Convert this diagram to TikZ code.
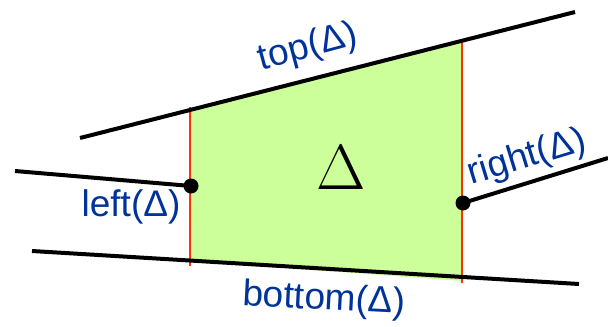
\documentclass[tikz,border=0pt]{standalone}
\usepackage{fontspec}
\setmainfont{Liberation Sans}
\definecolor{labelblue}{RGB}{0,51,153}
\definecolor{cellgreen}{RGB}{204,255,153}
\definecolor{wallred}{RGB}{255,51,0}
\begin{document}
\begin{tikzpicture}[x=0.5pt, y=-0.5pt,
        every node/.style={inner sep=0pt},
        lbl/.style={text=labelblue, font=\fontsize{18.5}{20}\selectfont},
        segment/.style={line width=2pt},
        wall/.style={wallred, line width=1pt},
        dot/.style={circle, fill=black, minimum size=7.5pt}]
        \useasboundingbox (0,0) rectangle (608,326);
        % trapezoid
        \fill[cellgreen] (190,110) -- (462,41) -- (462,281) -- (190,261) -- cycle;
        \coordinate (lt) at (190,107);
        \coordinate (lb) at (190,266);
        \coordinate (rt) at (462,43);
        \coordinate (rb) at (462,283);
        \draw[wall] (lt) -- (lb);
        \draw[wall] (rt) -- (rb);
        % segments
        \coordinate (t0) at (80,138);
        \coordinate (t1) at (575,12);
        \coordinate (b0) at (32,251);
        \coordinate (b1) at (579,284);
        \coordinate (l0) at (15,171);
        \coordinate (r1) at (608,158);
        \node[dot] (ldot) at (191,186) {};
        \node[dot] (rdot) at (463,203) {};
        \draw[segment] (t0) -- (t1);
        \draw[segment] (b0) -- (b1);
        \draw[segment] (l0) -- (ldot.center);
        \draw[segment] (rdot.center) -- (r1);
        % labels
        \node[font=\fontsize{20}{22}\selectfont, scale=1.54] (delta) at (341,168) {$\Delta$};
        \node[lbl, rotate=15] (top) at (308,48) {top(Δ)};
        \node[lbl] (left) at (131,207) {left(Δ)};
        \node[lbl, rotate=17] (right) at (527,158) {right(Δ)};
        \node[lbl, rotate=-3] (bottom) at (324,300) {bottom(Δ)};
    \end{tikzpicture}
\end{document}
